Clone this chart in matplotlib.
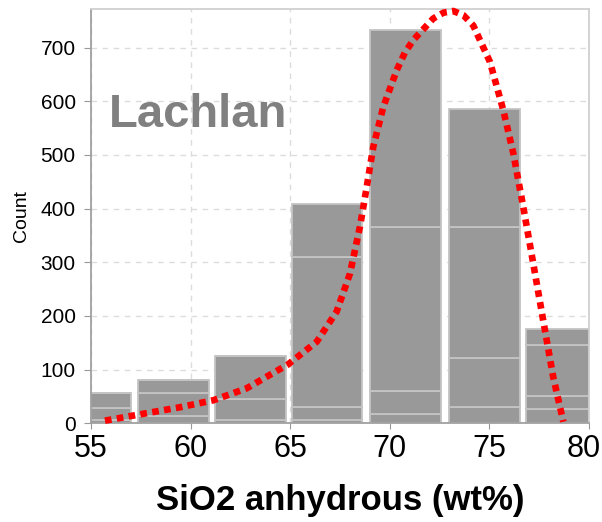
import matplotlib
matplotlib.use('Agg')
import matplotlib.pyplot as plt
import matplotlib.transforms as mtransforms
import numpy as np

plt.rcParams['font.family'] = ['Liberation Sans', 'DejaVu Sans']

# histogram bins (centres, wt% SiO2) and stacked counts per group
bin_centers = [55.25, 59.15, 63.0, 66.85, 70.8, 74.75, 78.6]
bin_width = 3.55
group_a = [7, 14, 6, 7, 17, 30, 26]
group_b = [21, 43, 39, 23, 44, 91, 24]
group_c = [29, 23, 81, 280, 305, 245, 95]
group_d = [0, 0, 0, 98, 367, 219, 30]

# fitted density curve (scaled to counts)
curve_x = [55.7, 57.8, 59.47, 61.14, 62.8, 64.9, 66.33, 67.33, 68.0, 68.5,
           68.84, 69.17, 69.67, 70.35, 70.75, 71.18, 72.18, 72.7, 73.19,
           73.7, 74.19, 75.03, 75.7, 76.2, 76.7, 77.2, 77.7, 78.2, 78.71]
curve_y = [5, 19, 30, 43, 65, 110, 152, 208, 279, 366,
           440, 515, 589, 658, 690, 714, 754, 765, 768,
           760, 741, 673, 583, 503, 403, 298, 192, 87, 3]

fig = plt.figure(figsize=(6.02, 5.22), dpi=100)
ax = fig.add_axes([0.1512, 0.189, 0.8272, 0.793])

bottom = np.zeros(len(bin_centers))
for vals in (group_a, group_b, group_c, group_d):
    ax.bar(bin_centers, vals, width=bin_width, bottom=bottom,
           color='#999999', edgecolor='#c4c4c4', linewidth=1.3, zorder=2)
    bottom += np.array(vals)

ax.plot(curve_x, curve_y, color='#ff0000', linewidth=4.8,
        linestyle=(0, (1, 0.8)), dash_capstyle='butt', zorder=3,
        clip_on=False)

ax.set_xlim(55, 80)
ax.set_ylim(0, 771)
ax.set_xticks([55, 60, 65, 70, 75, 80])
ax.set_yticks(range(0, 701, 100))
ax.tick_params(axis='x', labelsize=22, length=4, color='#999999', pad=4)
ax.tick_params(axis='y', labelsize=15, length=5, color='#999999', pad=6)
ax.grid(True, linestyle=(0, (4, 4)), color='#dcdcdc', linewidth=1, zorder=0)
ax.set_axisbelow(True)

# keep the last x label inside the figure
last = ax.get_xticklabels()[-1]
last.set_transform(last.get_transform() +
                   mtransforms.ScaledTranslation(-5 / 100, 0, fig.dpi_scale_trans))

for side in ('left', 'bottom'):
    ax.spines[side].set_color('#a0a0a0')
    ax.spines[side].set_linewidth(1.3)
for side in ('top', 'right'):
    ax.spines[side].set_color('#d0d0d0')
    ax.spines[side].set_linewidth(1.3)

ax.set_ylabel('Count', fontsize=14, labelpad=8)
ax.set_xlabel('SiO2 anhydrous (wt%)', fontsize=25, fontweight='bold', labelpad=14)

ax.text(0.035, 0.746, 'Lachlan', transform=ax.transAxes, fontsize=34,
        fontweight='bold', color='#808080', va='center', ha='left')

fig.savefig('out.png', dpi=100)
